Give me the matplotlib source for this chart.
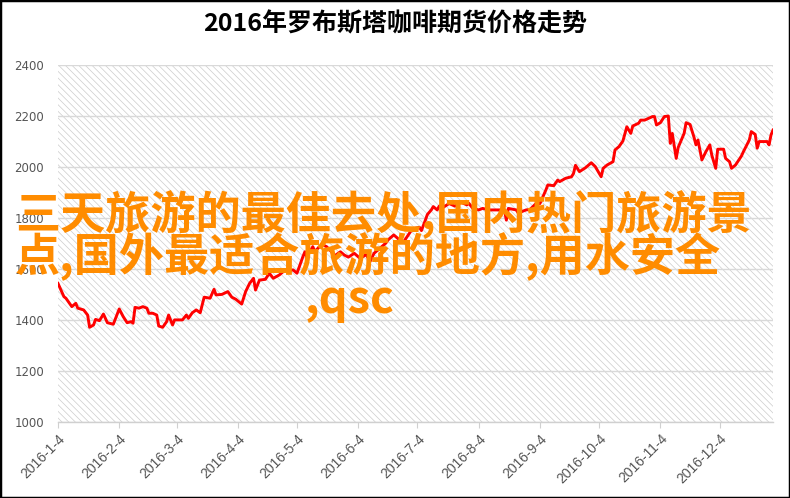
import matplotlib
matplotlib.use("Agg")
import matplotlib.pyplot as plt
import matplotlib.dates as mdates
from matplotlib.patches import Rectangle
import pandas as pd

plt.rcParams['font.family'] = ['Noto Sans CJK SC', 'DejaVu Sans']
plt.rcParams['hatch.linewidth'] = 0.5

title = "2016年罗布斯塔咖啡期货价格走势"
overlay_lines = ["三天旅游的最佳去处,国内热门旅游景",
                 "点,国外最适合旅游的地方,用水安全",
                 ",qsc"]

# days counted from 2016-1-4, price
day = [0, 3, 4, 7, 9, 10, 13, 15, 16, 18, 19, 21, 23, 25, 28, 29, 31, 33, 35, 37,
       38, 39, 41, 43, 45, 46, 48, 50, 51, 53, 55, 56, 58, 59, 63, 65, 66, 68, 70, 72,
       73, 74, 77, 79, 80, 83, 86, 88, 90, 93, 95, 97, 99, 100, 102, 105, 107, 109, 112, 114,
       119, 121, 124, 125, 126, 127, 129, 130, 132, 134, 136, 138, 140, 143, 145, 147, 150, 153, 156, 158,
       160, 163, 166, 167, 170, 173, 175, 179, 181, 183, 184, 186, 187, 189, 190, 192, 193, 195, 198, 201,
       204, 207, 208, 210, 213, 215, 218, 222, 226, 227, 228, 232, 233, 237, 239, 242, 244, 247, 248, 251,
       253, 254, 257, 260, 261, 262, 264, 267, 270, 272, 275, 276, 278, 281, 282, 284, 286, 288, 290, 291,
       294, 295, 297, 299, 301, 302, 303, 305, 307, 309, 310, 311, 313, 314, 317, 318, 320, 322, 323, 324,
       326, 328, 330, 331, 333, 334, 337, 338, 340, 341, 343, 346, 347, 350, 351, 353, 354, 355, 359, 360,
       361, 362]
price = [1542, 1490, 1484, 1451, 1464, 1445, 1438, 1418, 1370, 1379, 1401, 1396, 1422, 1388, 1382, 1402, 1442, 1412, 1388, 1392,
         1386, 1448, 1445, 1451, 1445, 1425, 1425, 1418, 1375, 1370, 1392, 1418, 1379, 1399, 1399, 1418, 1405, 1427, 1438, 1427,
         1457, 1488, 1484, 1519, 1497, 1499, 1510, 1488, 1480, 1461, 1510, 1542, 1562, 1516, 1555, 1558, 1582, 1562, 1575, 1588,
         1595, 1582, 1647, 1666, 1644, 1660, 1686, 1666, 1683, 1693, 1686, 1670, 1650, 1666, 1653, 1645, 1660, 1640, 1655, 1628,
         1660, 1680, 1700, 1712, 1732, 1712, 1705, 1751, 1758, 1762, 1749, 1790, 1812, 1830, 1843, 1830, 1845, 1840, 1855, 1845,
         1860, 1850, 1856, 1836, 1830, 1836, 1830, 1830, 1830, 1790, 1836, 1830, 1818, 1830, 1832, 1855, 1855, 1908, 1928, 1925,
         1947, 1941, 1954, 1960, 1973, 2005, 1980, 1995, 2015, 2000, 1960, 1993, 2006, 2019, 2065, 2078, 2100, 2156, 2130, 2159,
         2170, 2182, 2182, 2189, 2196, 2196, 2163, 2172, 2196, 2198, 2091, 2130, 2032, 2075, 2130, 2172, 2165, 2115, 2085, 2104,
         2026, 2058, 2085, 2045, 1993, 2068, 2068, 2032, 2019, 1993, 2006, 2041, 2058, 2104, 2137, 2126, 2072, 2098, 2098, 2085,
         2124, 2143]

start = pd.Timestamp("2016-01-04")
dates = start + pd.to_timedelta(day, unit="D")

fig = plt.figure(figsize=(7.9, 4.98), dpi=100)
ax = fig.add_axes([58 / 790, 1 - 421.7 / 498, (773 - 58) / 790, (421.7 - 64.5) / 498])

# hatched plot background
ax.add_patch(Rectangle((0, 0), 1, 1, transform=ax.transAxes, facecolor="white",
                       edgecolor="#cccccc", hatch="\\" * 5, linewidth=0, zorder=0))

ax.plot(dates, price, color="#ff0000", linewidth=2.1, zorder=3)

ax.set_ylim(1000, 2400)
ax.set_yticks(range(1000, 2401, 200))
ax.set_xlim(start, pd.Timestamp("2016-12-31"))
ax.xaxis.set_major_locator(mdates.MonthLocator(bymonthday=4))
ax.xaxis.set_major_formatter(plt.FuncFormatter(
    lambda v, p: "{0.year}-{0.month}-{0.day}".format(mdates.num2date(v))))

ax.grid(axis="y", color="#d9d9d9", linewidth=1.0, zorder=1)
ax.set_axisbelow(True)
for s in ["top", "right", "left"]:
    ax.spines[s].set_visible(False)
ax.spines["bottom"].set_color("#d0d0d0")
ax.spines["bottom"].set_linewidth(1.0)
ax.tick_params(axis="y", length=0, pad=10, labelsize=8.5, labelcolor="#555555")
ax.tick_params(axis="x", length=4, color="#d0d0d0", pad=3, labelsize=10, labelcolor="#555555")
for lab in ax.get_yticklabels():
    lab.set_family("DejaVu Sans")
for lab in ax.get_xticklabels():
    lab.set_family("Liberation Sans")
    lab.set_rotation(45)
    lab.set_ha("right")
    lab.set_rotation_mode("anchor")

fig.text(0.5, 1 - 24 / 498, title, ha="center", va="center", fontsize=18, fontweight="bold", color="black")

# orange overlay text
fig.text(15 / 790, 1 - 229 / 498, overlay_lines[0], fontsize=32.5, fontweight="bold", color="#ff8c00",
         ha="left", va="baseline", zorder=5)
fig.text(15 / 790, 1 - 271 / 498, overlay_lines[1], fontsize=32.5, fontweight="bold", color="#ff8c00",
         ha="left", va="baseline", zorder=5)
fig.text(305 / 790, 1 - 313 / 498, overlay_lines[2], fontsize=32.5, fontweight="bold", color="#ff8c00",
         ha="left", va="baseline", zorder=5)

fig.patches.append(Rectangle((0, 0), 1, 1, transform=fig.transFigure, fill=False,
                             edgecolor="black", linewidth=2.5, zorder=10))

fig.savefig("out.png", dpi=100)
